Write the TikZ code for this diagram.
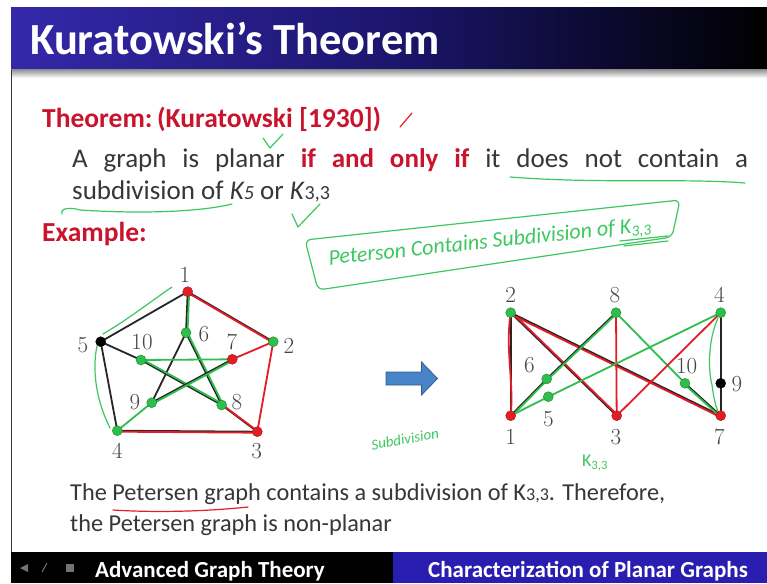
\documentclass[tikz,border=0pt]{standalone}
\usepackage{fontspec}
\newfontfamily\slide{Carlito}
\definecolor{hdrblue}{RGB}{52,40,170}
\definecolor{hdrmid}{RGB}{28,22,110}
\definecolor{ftblue}{RGB}{42,30,176}
\definecolor{thmred}{RGB}{200,20,45}
\definecolor{txtgray}{RGB}{55,55,55}
\definecolor{pen}{RGB}{60,200,95}
\definecolor{vred}{RGB}{228,28,38}
\definecolor{vgreen}{RGB}{45,190,75}
\definecolor{arrowblue}{RGB}{72,132,200}
\definecolor{labgray}{RGB}{70,70,70}
\tikzset{
  vx/.style={circle,inner sep=0pt,minimum size=10pt,draw=#1!70!black,fill=#1},
  lab/.style={text=labgray,font=\fontsize{23}{23}\selectfont,inner sep=0pt},
  blk/.style={draw=black!85,line width=1.8pt},
  rhl/.style={draw=vred,line width=1.8pt},
  ghl/.style={draw=vgreen,line width=1.8pt},
  penline/.style={draw=pen,line width=1.2pt,line cap=round,line join=round},
  redpen/.style={draw=vred,line width=1.2pt,line cap=round},
  body/.style={anchor=base west,inner sep=0pt,text=txtgray,font=\slide\fontsize{27}{30}\selectfont},
  bodys/.style={anchor=base west,inner sep=0pt,text=txtgray,font=\slide\fontsize{24.3}{28}\selectfont},
  redbold/.style={anchor=base west,inner sep=0pt,text=thmred,font=\slide\bfseries\fontsize{27.5}{30}\selectfont},
  foot/.style={anchor=base west,inner sep=0pt,text=white,font=\slide\bfseries\fontsize{23}{24}\selectfont},
  blockarrow/.style={draw=arrowblue!70!black,fill=arrowblue,line width=0.8pt,line join=miter},
}
\begin{document}
\begin{tikzpicture}[x=1pt,y=-1pt]
\useasboundingbox (0,0) rectangle (767,583);
\fill[white] (0,0) rectangle (767,583);
% header
\shade[left color=hdrblue,right color=black,middle color=hdrmid] (11,8) rectangle (767,70);
\shade[top color=black!40,bottom color=white] (11,70) rectangle (767,78);
\node[anchor=base west,inner sep=0pt,text=white,font=\slide\bfseries\fontsize{44.5}{46}\selectfont] (title) at (30,55) {Kuratowski’s Theorem};
% left border
\draw[black!80,line width=1pt] (11,70) -- (11,552);
% footer
\fill[black] (11,552) rectangle (393,583);
\fill[ftblue] (393,552) rectangle (767,583);
\node[foot] (ftl) at (95,577) {Advanced Graph Theory};
\node[foot] (ftr) at (428,577) {Characterization of Planar Graphs};
\fill[black!55] (20,568) -- (28,564) -- (28,572) -- cycle;
\draw[black!55,line width=1pt] (42,572) -- (47,563);
\fill[black!55] (66,564) rectangle (74,572);
% theorem text
\node[redbold] (thm) at (42,127) {Theorem:\,(Kuratowski [1930])};
\node[body] (l1) at (72,167) {\makebox[676pt][s]{A graph is planar \textcolor{thmred}{\bfseries if and only if} it does not contain a}};
\node[body] (l2) at (72,199) {subdivision of \textit{K{\fontsize{20}{22}\selectfont 5}} or \textit{K}{\fontsize{20}{22}\selectfont 3,3}};
\node[redbold] (ex) at (42,241) {Example:};
\node[bodys] (b1) at (70,500) {The Petersen graph contains a subdivision of K{\fontsize{18}{20}\selectfont 3,3}. Therefore,};
\node[bodys] (b2) at (70,531) {the Petersen graph is non-planar};
% annotations
\draw[redpen] (400,127) -- (412,113);
\draw[penline] (263,138) -- (270,148) -- (283,134);
\draw[penline] (510,177) .. controls (600,184) and (680,178) .. (745,183);
\draw[penline] (62,214) .. controls (60,208) and (70,207) .. (80,210) .. controls (140,214) and (200,212) .. (232,204);
\draw[penline] (292,214) -- (298,227) -- (320,204);
\draw[redpen] (113,510) .. controls (160,513) and (210,511) .. (248,507);
\draw[penline,rounded corners=6pt] (305,240) -- (680,200) -- (672,237) -- (318,290) -- cycle;
\node[text=pen,rotate=6,font=\slide\itshape\fontsize{22}{24}\selectfont,inner sep=0pt] (ann) at (490,243) {Peterson Contains Subdivision of K\textsubscript{3,3}};
\draw[penline] (620,241) -- (668,236);
\draw[penline] (624,246) -- (668,241);
% Petersen graph
\coordinate (p1) at (187.7,291.7);
\coordinate (p2) at (273.3,341.7);
\coordinate (p3) at (257.3,431.7);
\coordinate (p4) at (117.3,430.7);
\coordinate (p5) at (100.7,341.7);
\coordinate (p6) at (186,332.7);
\coordinate (p7) at (232.3,359.3);
\coordinate (p8) at (221.7,405);
\coordinate (p9) at (151.7,402.7);
\coordinate (p10) at (141,360);
\draw[blk] (p1) -- (p2); \draw[rhl,transform canvas={yshift=-1pt}] (p1) -- (p2);
\draw[rhl] (p2) -- (p3);
\draw[blk] (p3) -- (p4); \draw[rhl,transform canvas={yshift=-1pt}] (p3) -- (p4);
\draw[blk] (p4) -- (p5);
\draw[blk] (p5) -- (p1);
\draw[blk] (p1) -- (p6); \draw[ghl,transform canvas={xshift=1.5pt}] (p1) -- (p6);
\draw[rhl] (p2) -- (p7);
\draw[blk] (p3) -- (p8); \draw[rhl,transform canvas={xshift=1pt}] (p3) -- (p8);
\draw[ghl] (p4) -- (p9);
\draw[blk] (p5) -- (p10);
\draw[blk] (p6) -- (p8); \draw[ghl,transform canvas={xshift=1.5pt}] (p6) -- (p8);
\draw[blk] (p6) -- (p9);
\draw[ghl] (p10) -- (p7);
\draw[blk] (p10) -- (p8); \draw[ghl,transform canvas={yshift=1.5pt}] (p10) -- (p8);
\draw[blk] (p7) -- (p9); \draw[ghl,transform canvas={yshift=-1.5pt}] (p7) -- (p9);
\node[vx=vred] (P1) at (p1) {};
\node[vx=vgreen] (P2) at (p2) {};
\node[vx=vred] (P3) at (p3) {};
\node[vx=vgreen] (P4) at (p4) {};
\node[vx=black] (P5) at (p5) {};
\node[vx=vgreen] (P6) at (p6) {};
\node[vx=vred] (P7) at (p7) {};
\node[vx=vgreen] (P8) at (p8) {};
\node[vx=vgreen] (P9) at (p9) {};
\node[vx=vgreen] (P10) at (p10) {};
\node[lab] (L1) at (185,275) {1};
\node[lab] (L2) at (289,346) {2};
\node[lab] (L3) at (256.7,451) {3};
\node[lab] (L4) at (117.3,451) {4};
\node[lab] (L5) at (83,345) {5};
\node[lab] (L6) at (204,334) {6};
\node[lab] (L7) at (232,342) {7};
\node[lab] (L8) at (237,402) {8};
\node[lab] (L9) at (135,402) {9};
\node[lab] (L10) at (142,342) {10};
\draw[penline] (103,334) .. controls (130,318) and (150,302) .. (172,287);
\draw[penline] (97,346) .. controls (92,370) and (96,400) .. (110,428);
% arrow
\draw[blockarrow] (386,372) -- (421.5,372) -- (421.5,362) -- (437.5,378.5) -- (421.5,395) -- (421.5,385) -- (386,385) -- cycle;
\node[text=pen,rotate=10,font=\slide\itshape\fontsize{15}{16}\selectfont,inner sep=0pt] (sub) at (405,439) {Subdivision};
% K33 graph
\coordinate (k2) at (510.7,312.7);
\coordinate (k8) at (616,312.7);
\coordinate (k4) at (720.7,312.7);
\coordinate (k1) at (510.7,415.7);
\coordinate (k3) at (616.7,415.7);
\coordinate (k7) at (720.7,415.7);
\coordinate (k6) at (546.7,379);
\coordinate (k5) at (548.3,396.7);
\coordinate (k10) at (685,383.3);
\coordinate (k9) at (720.7,383.3);
\draw[blk] (k2) -- (k1); \draw[rhl] (k2) .. controls (505,350) and (514,380) .. (k1);
\draw[blk] (k2) -- (k3); \draw[rhl,transform canvas={xshift=1.5pt}] (k2) -- (k3);
\draw[blk] (k2) -- (k7); \draw[rhl,transform canvas={yshift=-1.5pt}] (k2) -- (k7);
\draw[rhl] (k8) -- (k3);
\draw[blk] (k8) -- (k6) -- (k1); \draw[ghl,transform canvas={yshift=-1.5pt}] (k8) -- (k6) -- (k1);
\draw[ghl] (k8) -- (k10); \draw[blk] (k10) -- (k7); \draw[ghl,transform canvas={yshift=-1.5pt}] (k10) -- (k7);
\draw[ghl] (k4) -- (k5) -- (k1);
\draw[rhl] (k4) -- (k3);
\draw[blk] (k4) -- (k9) -- (k7);
\draw[penline] (718,318) .. controls (708,340) and (708,370) .. (712,385) .. controls (714,400) and (716,408) .. (719,413);
\node[vx=vgreen] (K2) at (k2) {};
\node[vx=vgreen] (K8) at (k8) {};
\node[vx=vgreen] (K4) at (k4) {};
\node[vx=vred] (K1) at (k1) {};
\node[vx=vred] (K3) at (k3) {};
\node[vx=vred] (K7) at (k7) {};
\node[vx=vgreen] (K6) at (k6) {};
\node[vx=vgreen] (K5) at (k5) {};
\node[vx=vgreen] (K10) at (k10) {};
\node[vx=black] (K9) at (k9) {};
\node[lab] (M2) at (510.7,295) {2};
\node[lab] (M8) at (615,295) {8};
\node[lab] (M4) at (719.3,295) {4};
\node[lab] (M1) at (510.7,437) {1};
\node[lab] (M3) at (616,437) {3};
\node[lab] (M7) at (719.3,437) {7};
\node[lab] (M6) at (529.3,365) {6};
\node[lab] (M5) at (548.3,419) {5};
\node[lab] (M10) at (686.7,366) {10};
\node[lab] (M9) at (737,384) {9};
\node[text=pen,font=\slide\fontsize{18}{18}\selectfont,inner sep=0pt] (kk) at (595,463) {K\textsubscript{3,3}};
\end{tikzpicture}
\end{document}
